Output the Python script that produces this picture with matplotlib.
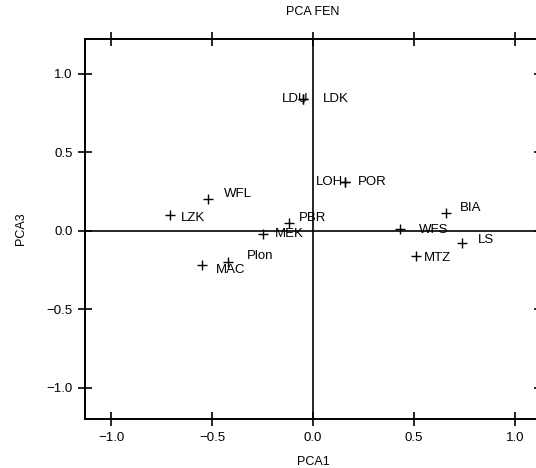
import matplotlib
matplotlib.use("Agg")
from matplotlib import pyplot as plt

# site scores on the first and third principal components
sites = ['LDU', 'LDK', 'LOH', 'POR', 'WFL', 'LZK', 'PBR', 'MEK', 'MAC', 'Plon',
         'BIA', 'WFS', 'LS', 'MTZ']
pca1 = [-0.05, -0.05, 0.16, 0.16, -0.52, -0.71, -0.12, -0.25, -0.55, -0.42,
        0.66, 0.43, 0.74, 0.51]
pca3 = [0.84, 0.84, 0.31, 0.31, 0.20, 0.10, 0.05, -0.02, -0.22, -0.20,
        0.11, 0.01, -0.08, -0.16]

xticks = [-1.0, -0.5, 0.0, 0.5, 1.0]
yticks = [-1.0, -0.5, 0.0, 0.5, 1.0]
ticklabels = ['\u22121.0', '\u22120.5', '0.0', '0.5', '1.0']

# label offsets in pixels (dx, dy)
offsets = {'LDU': (-21, 0), 'LDK': (20, 0), 'LOH': (-29, 0), 'POR': (13, 0),
           'WFL': (16, 5), 'LZK': (11, -3), 'PBR': (10, 5), 'MEK': (12, 0),
           'MAC': (14, -5), 'Plon': (19, 6), 'BIA': (14, 5), 'WFS': (19, -1),
           'LS': (15, 3), 'MTZ': (8, -2)}

plt.rcParams['font.family'] = ['Liberation Sans', 'DejaVu Sans']

fig = plt.figure(figsize=(5.36, 4.68), dpi=100)
ax = fig.add_axes([0.1586, 0.1047, 0.851, 0.812])

ax.axhline(0, color='black', lw=1.2, zorder=1)
ax.axvline(0, color='black', lw=1.2, zorder=1)
ax.plot(pca1, pca3, '+', color='black', ms=7, mew=1.0, zorder=2)

for name, x, y in zip(sites, pca1, pca3):
    dx, dy = offsets[name]
    ax.annotate(name, (x, y), xytext=(dx, dy), textcoords='offset pixels',
                ha='left', va='center', fontsize=9.5)

ax.set_xlim(-1.13, 1.13)
ax.set_ylim(-1.2, 1.22)
ax.set_xticks(xticks)
ax.set_xticklabels(ticklabels)
ax.set_yticks(yticks)
ax.set_yticklabels(ticklabels)
ax.tick_params(direction='inout', length=10, width=1.2, labelsize=9.5,
               top=True, right=True, pad=4)
for s in ax.spines.values():
    s.set_linewidth(1.4)

ax.set_title('PCA FEN', fontsize=9, pad=17)
ax.set_xlabel('PCA1', fontsize=9, labelpad=9)
ax.set_ylabel('PCA3', fontsize=9, labelpad=14)

fig.savefig('out.png', dpi=100)
